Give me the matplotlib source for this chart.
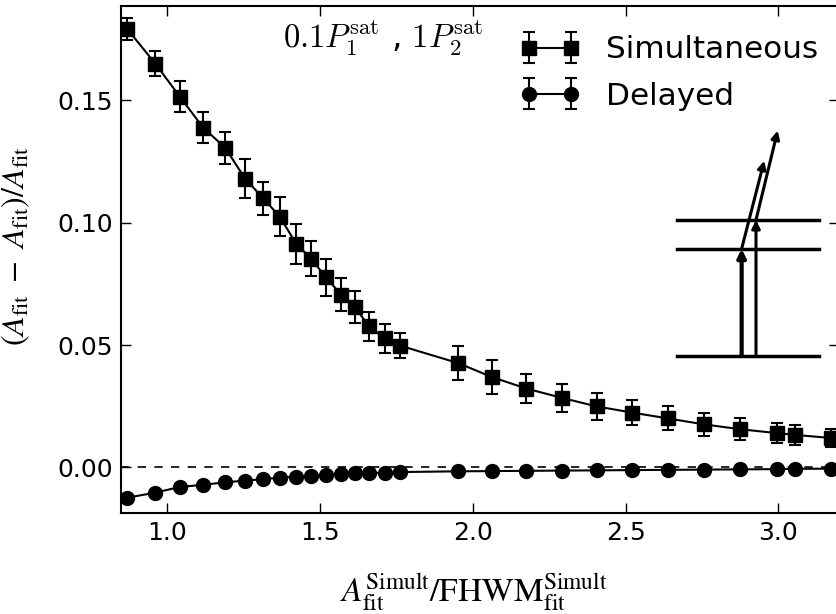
import numpy as np
import matplotlib
matplotlib.use("Agg")
import matplotlib.pyplot as plt

# Peak area over width (x axis)
ratio = [0.869, 0.961, 1.042, 1.118, 1.190, 1.255, 1.314, 1.369, 1.422, 1.471,
         1.520, 1.569, 1.614, 1.660, 1.712, 1.761, 1.953, 2.063, 2.176, 2.292,
         2.406, 2.522, 2.639, 2.756, 2.875, 2.996, 3.054, 3.173]

# Relative area error, simultaneous pulses
simult = [0.1792, 0.1650, 0.1514, 0.1388, 0.1306, 0.1180, 0.1100, 0.1024, 0.0914, 0.0853,
          0.0776, 0.0706, 0.0657, 0.0576, 0.0527, 0.0498, 0.0426, 0.0369, 0.0322, 0.0284,
          0.0249, 0.0224, 0.0200, 0.0176, 0.0156, 0.0140, 0.0133, 0.0120]
simultErr = [0.0045, 0.0050, 0.0063, 0.0063, 0.0065, 0.0081, 0.0067, 0.0079, 0.0082, 0.0073,
             0.0075, 0.0068, 0.0065, 0.0060, 0.0060, 0.0052, 0.0070, 0.0069, 0.0060, 0.0056,
             0.0056, 0.0052, 0.0049, 0.0046, 0.0045, 0.0041, 0.0041, 0.0037]

# Relative area error, delayed pulses
delayed = [-0.0124, -0.0103, -0.0080, -0.0071, -0.0061, -0.0054, -0.0048, -0.0042, -0.0038, -0.0034,
           -0.0030, -0.0026, -0.0024, -0.0023, -0.0022, -0.0019, -0.0016, -0.0015, -0.0014, -0.0013,
           -0.0012, -0.0011, -0.0010, -0.0009, -0.0008, -0.0007, -0.0006, -0.0005]
delayedErr = [0.0004] * len(delayed)

# Level scheme (energy levels and transitions)
levelX = [2.670, 3.134]
levels = [0.0457, 0.0893, 0.1011]
step1 = [(2.880, 0.0457), (2.880, 0.0893), (2.954, 0.1253)]
step2 = [(2.927, 0.0457), (2.927, 0.1011), (2.998, 0.1376)]

fig = plt.figure(figsize=(8.37, 6.14), dpi=100)
ax = fig.add_axes([0.1449, 0.165, 0.858, 0.826])

ebKw = dict(color="k", lw=1.5, capsize=4.5, elinewidth=1.5, capthick=1.5, markersize=10)
ax.errorbar(ratio, simult, yerr=simultErr, marker="s", label="Simultaneous", **ebKw)
ax.errorbar(ratio, delayed, yerr=delayedErr, marker="o", label="Delayed", **ebKw)
ax.axhline(0, color="k", ls="--", lw=1.2, dashes=(5, 5))

for lv in levels:
    ax.plot(levelX, [lv, lv], color="k", lw=2.5)
for path, lw in ((step1, 3.0), (step2, 2.2)):
    ax.annotate("", xy=path[1], xytext=path[0],
                arrowprops=dict(arrowstyle="-|>", lw=lw, color="k", mutation_scale=12,
                                shrinkA=0, shrinkB=0))
    ax.annotate("", xy=path[2], xytext=path[1],
                arrowprops=dict(arrowstyle="-|>", lw=2.2, color="k", mutation_scale=12,
                                shrinkA=0, shrinkB=0))

ax.text(1.378, 0.1715, r"$0.1P_1^{\rm sat}$ , $1P_2^{\rm sat}$", fontsize=23.5,
        math_fontfamily="cm")

ax.set_xlim(0.85, 3.2)
ax.set_ylim(-0.0185, 0.1887)
ax.set_xticks([1.0, 1.5, 2.0, 2.5, 3.0])
ax.set_yticks([0.0, 0.05, 0.10, 0.15])
ax.yaxis.set_major_formatter(matplotlib.ticker.FormatStrFormatter("%.2f"))
ax.tick_params(direction="in", top=True, right=True, length=7, width=1, labelsize=18, pad=6)
for s in ax.spines.values():
    s.set_linewidth(1.5)

ax.set_xlabel(r"$A_{\rm fit}^{\rm Simult}/\mathrm{FHWM}_{\rm fit}^{\rm Simult}$", fontsize=24,
              math_fontfamily="stix")
ax.xaxis.set_label_coords(0.491, -0.115)
ax.set_ylabel(r"$(A_{\rm fit}\ -\ A_{\rm fit})/A_{\rm fit}$", fontsize=23,
              math_fontfamily="stix")
ax.yaxis.set_label_coords(-0.125, 0.526)

ax.legend(loc="upper right", frameon=False, numpoints=2, fontsize=22.4, handlelength=1.95,
          handletextpad=0.8, labelspacing=0.55, borderaxespad=0.3, bbox_to_anchor=(1.0, 0.984))

fig.savefig("out.png", dpi=100)
